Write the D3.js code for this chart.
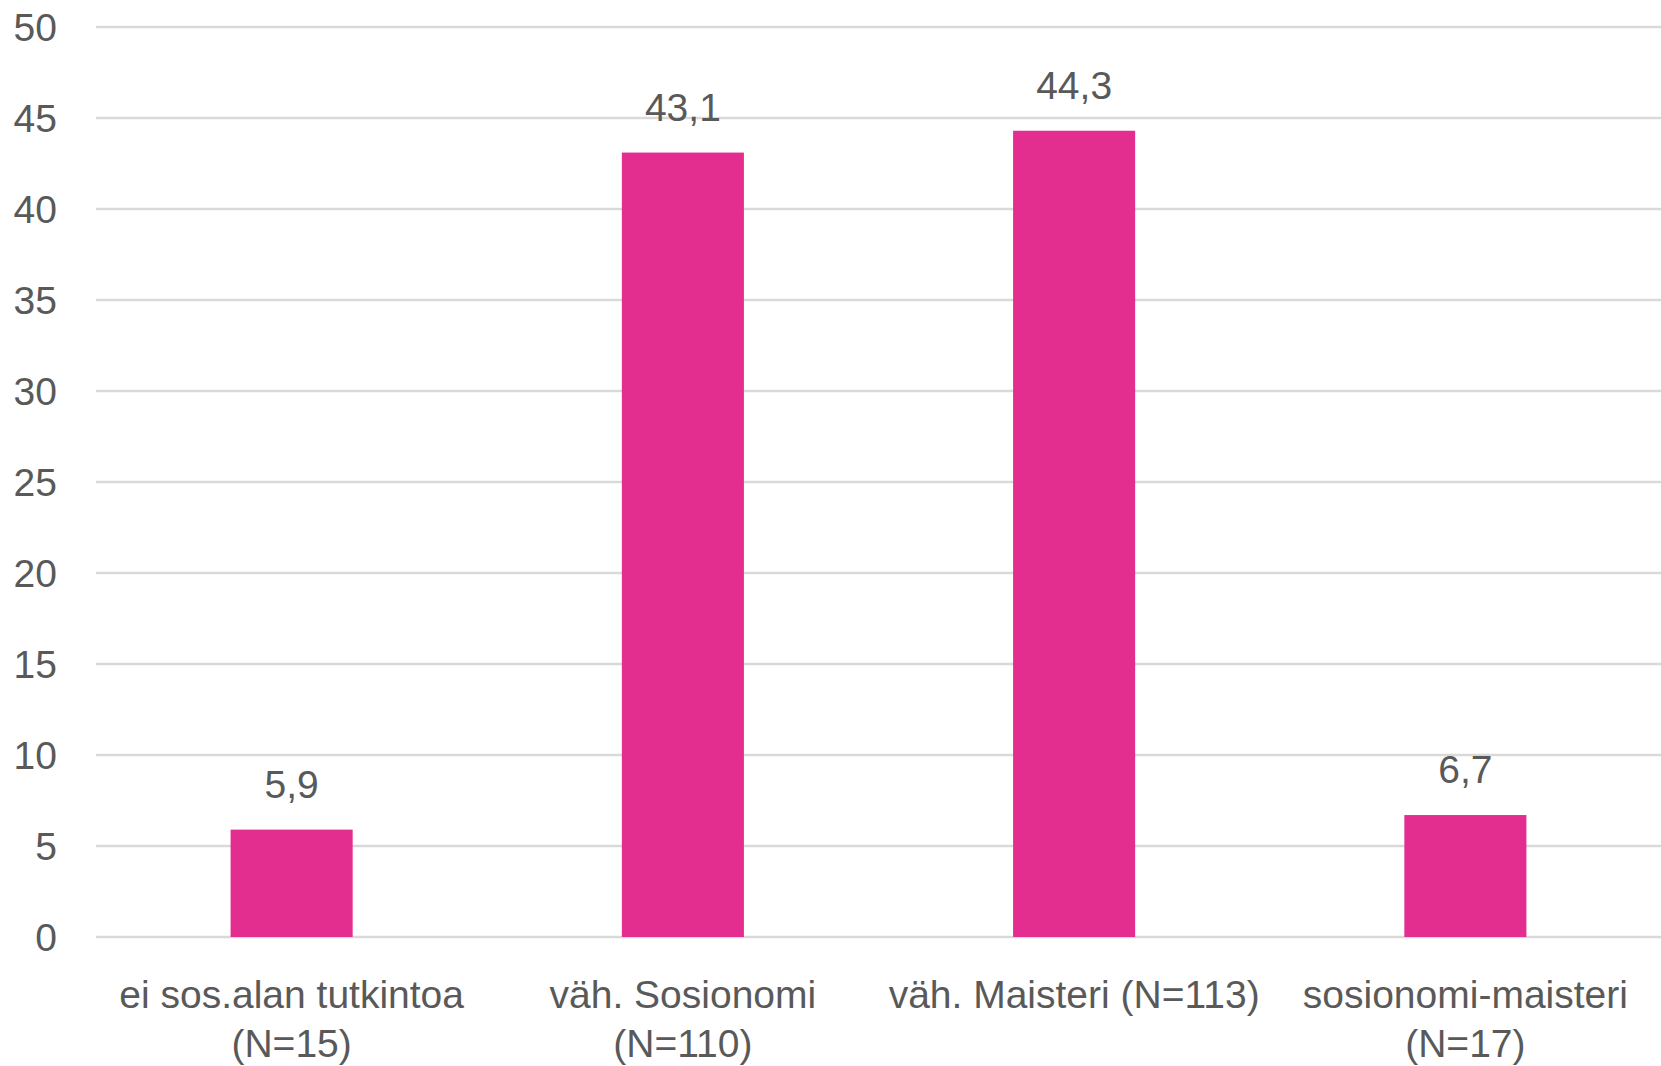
<!DOCTYPE html>
<html>
<head>
<meta charset="utf-8">
<script src="https://cdn.jsdelivr.net/npm/d3@7/dist/d3.min.js"></script>
<style>
  html, body { margin: 0; padding: 0; background: #ffffff; }
  svg { display: block; }
  text { font-family: "Liberation Sans", Arial, sans-serif; fill: #595959; }
</style>
</head>
<body>
<svg id="chart" width="1661" height="1066"></svg>
<script>
const categories = [
  ["ei sos.alan tutkintoa", "(N=15)"],
  ["väh. Sosionomi", "(N=110)"],
  ["väh. Maisteri (N=113)"],
  ["sosionomi-maisteri", "(N=17)"]
];
const values = [5.9, 43.1, 44.3, 6.7];
const valueLabels = ["5,9", "43,1", "44,3", "6,7"];
const yTicks = [0, 5, 10, 15, 20, 25, 30, 35, 40, 45, 50];

(function () {
const svg = d3.select("#chart");
const plotLeft = 96, plotRight = 1661, plotTop = 27, plotBottom = 937;
const fontSize = 39;

const x = d3.scaleBand()
  .domain(d3.range(categories.length))
  .range([plotLeft, plotRight])
  .paddingInner(0.688)
  .paddingOuter(0.344);

const y = d3.scaleLinear().domain([0, 50]).range([plotBottom, plotTop]);

// gridlines
svg.append("g")
  .selectAll("line")
  .data(yTicks)
  .join("line")
  .attr("x1", plotLeft)
  .attr("x2", plotRight)
  .attr("y1", d => y(d))
  .attr("y2", d => y(d))
  .attr("stroke", "#d9d9d9")
  .attr("stroke-width", 2.5);

// y axis labels
const yAxis = d3.axisLeft(y).tickValues(yTicks).tickSize(0).tickPadding(0).tickFormat(d3.format("d"));
const gy = svg.append("g").attr("transform", "translate(57,0)").call(yAxis);
gy.select(".domain").remove();
gy.selectAll("text")
  .attr("font-size", fontSize)
  .attr("font-family", "Liberation Sans, Arial, sans-serif")
  .attr("fill", "#595959")
  .attr("dy", "0.35em")
  .attr("x", 0);

// bars
svg.append("g")
  .selectAll("rect")
  .data(values)
  .join("rect")
  .attr("x", (d, i) => x(i))
  .attr("width", x.bandwidth())
  .attr("y", d => y(d))
  .attr("height", d => y(0) - y(d))
  .attr("fill", "#e32d8f");

// value labels
svg.append("g")
  .selectAll("text")
  .data(values)
  .join("text")
  .attr("x", (d, i) => x(i) + x.bandwidth() / 2)
  .attr("y", d => y(d) - 32)
  .attr("text-anchor", "middle")
  .attr("font-size", fontSize)
  .text((d, i) => valueLabels[i]);

// category labels
const cat = svg.append("g")
  .selectAll("text")
  .data(categories)
  .join("text")
  .attr("x", (d, i) => x(i) + x.bandwidth() / 2)
  .attr("y", 1008)
  .attr("text-anchor", "middle")
  .attr("font-size", fontSize);
cat.selectAll("tspan")
  .data(d => d)
  .join("tspan")
  .attr("x", function () { return d3.select(this.parentNode).attr("x"); })
  .attr("dy", (d, i) => i === 0 ? 0 : 49)
  .text(d => d);
})();
</script>
</body>
</html>
